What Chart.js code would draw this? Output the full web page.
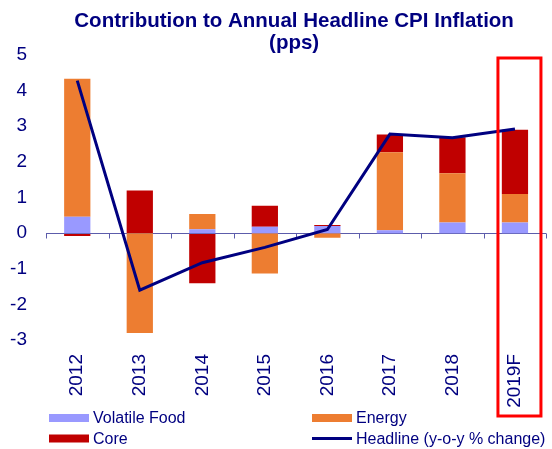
<!DOCTYPE html>
<html>
<head>
<meta charset="utf-8">
<script src="https://cdn.jsdelivr.net/npm/chart.js@4"></script>
<style>
  html, body { margin: 0; padding: 0; background: #fff; }
  #wrap { width: 552px; height: 449px; position: relative; }
</style>
</head>
<body>
<div id="wrap"><canvas id="cpiChart"></canvas></div>
<script>
  const years = ['2012', '2013', '2014', '2015', '2016', '2017', '2018', '2019F'];
  const volatileFood = [0.46, 0, 0.11, 0.18, 0.2, 0.08, 0.3, 0.3];
  const energy = [3.87, -2.8, 0.43, -1.13, -0.13, 2.19, 1.38, 0.8];
  const core = [-0.08, 1.2, -1.41, 0.59, 0.03, 0.5, 1.01, 1.8];
  const headline = [4.28, -1.6, -0.83, -0.4, 0.1, 2.78, 2.68, 2.92];
  const yTicks = [-3, -2, -1, 0, 1, 2, 3, 4, 5];

  const navy = '#000080';
  const fontFam = '"Liberation Sans", Arial, sans-serif';

  // zero axis line with tick marks between categories
  const zeroAxis = {
    id: 'zeroAxis',
    afterDatasetDraw(chart, args) {
      if (args.index !== 2) return;
      const { ctx, chartArea, scales } = chart;
      const y0 = Math.round(scales.y.getPixelForValue(0)) + 0.5;
      ctx.save();
      ctx.strokeStyle = '#5c5cab';
      ctx.lineWidth = 1;
      ctx.beginPath();
      ctx.moveTo(chartArea.left, y0);
      ctx.lineTo(chartArea.right, y0);
      const step = (chartArea.right - chartArea.left) / years.length;
      for (let i = 0; i <= years.length; i++) {
        const x = Math.round(chartArea.left + step * i) + 0.5;
        ctx.moveTo(x, y0);
        ctx.lineTo(x, y0 + 5);
      }
      ctx.stroke();
      ctx.restore();
    }
  };

  // title, legend and highlight box
  const extras = {
    id: 'extras',
    afterDraw(chart) {
      const { ctx, chartArea, scales } = chart;
      ctx.save();
      // title
      const cx = (chartArea.left + chartArea.right) / 2 - 2;
      ctx.fillStyle = navy;
      ctx.font = 'bold 20.5px ' + fontFam;
      ctx.textAlign = 'center';
      ctx.textBaseline = 'alphabetic';
      ctx.fillText('Contribution to Annual Headline CPI Inflation', cx, 27);
      ctx.fillText('(pps)', cx, 49);

      // red box around the forecast year
      const xf = scales.x.getPixelForValue(years.length - 1);
      ctx.strokeStyle = '#ff0000';
      ctx.lineWidth = 3;
      ctx.strokeRect(xf - 17, scales.y.getPixelForValue(5) + 3, 43, 358);

      // legend
      const cols = [49, 312];
      const rows = [418, 438.5];
      const items = [0, 1, 2, 3].map(i => chart.data.datasets[i]);
      const grid = [[0, 0], [1, 0], [0, 1], [1, 1]];
      ctx.font = '16px ' + fontFam;
      ctx.textAlign = 'left';
      ctx.textBaseline = 'middle';
      items.forEach((ds, i) => {
        const x = cols[grid[i][0]];
        const y = rows[grid[i][1]];
        if (ds.type === 'line') {
          ctx.fillStyle = ds.borderColor;
          ctx.fillRect(x, y - 1.5, 40, 3);
        } else {
          ctx.fillStyle = ds.backgroundColor;
          ctx.fillRect(x, y - 4, 40, 8);
        }
        ctx.fillStyle = navy;
        ctx.fillText(ds.label, x + 44, y + 1);
      });
      ctx.restore();
    }
  };

  const barDefaults = { type: 'bar', stack: 's', order: 1, borderWidth: 0, barPercentage: 0.42, categoryPercentage: 1 };

  new Chart(document.getElementById('cpiChart'), {
    data: {
      labels: years,
      datasets: [
        { ...barDefaults, label: 'Volatile Food', data: volatileFood, backgroundColor: '#9999ff' },
        { ...barDefaults, label: 'Energy', data: energy, backgroundColor: '#ed7d31' },
        { ...barDefaults, label: 'Core', data: core, backgroundColor: '#c00000' },
        {
          type: 'line', label: 'Headline (y-o-y % change)', data: headline, order: 0,
          borderColor: navy, backgroundColor: navy, borderWidth: 3, pointRadius: 0, tension: 0, fill: false
        }
      ]
    },
    options: {
      responsive: true,
      maintainAspectRatio: false,
      animation: false,
      layout: { padding: { top: 55, right: 4, bottom: 39, left: 0 } },
      plugins: {
        legend: { display: false },
        title: { display: false },
        tooltip: { enabled: false }
      },
      scales: {
        x: {
          stacked: true,
          grid: { display: false, drawTicks: false },
          border: { display: false },
          ticks: {
            color: navy, font: { family: fontFam, size: 19 },
            minRotation: 90, maxRotation: 90, padding: 14, autoSkip: false
          },
          afterFit(scale) { scale.height = 70; }
        },
        y: {
          stacked: true,
          min: -3, max: 5,
          afterBuildTicks(scale) { scale.ticks = yTicks.map(v => ({ value: v })); },
          grid: { display: false, drawTicks: false },
          border: { display: false },
          ticks: { color: navy, font: { family: fontFam, size: 19 }, padding: 19 },
          afterFit(scale) { scale.width = 46; }
        }
      }
    },
    plugins: [zeroAxis, extras]
  });
</script>
</body>
</html>
